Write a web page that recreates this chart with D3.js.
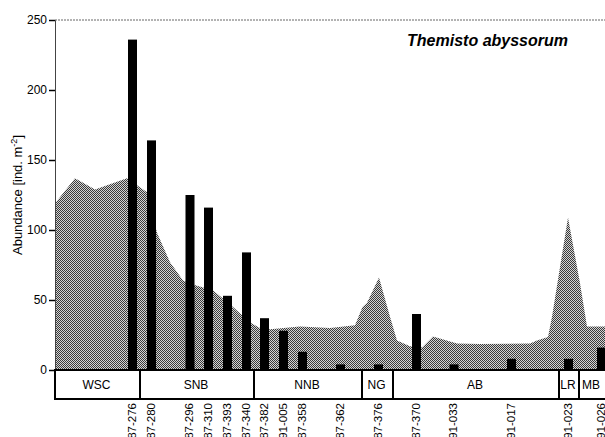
<!DOCTYPE html>
<meta charset="utf-8">
<html>
<head>
    <script src="https://cdn.jsdelivr.net/npm/d3@7"></script>
    <style>
        body { margin: 0; background: #fff; }
        text { font-family: "Liberation Sans", Arial, sans-serif; }
    </style>
</head>
<body>
    <script>
    // stations along the transect (position in transect units)
    var stations = ["87-276", "87-280", "87-296", "87-310", "87-393", "87-340", "87-382", "91-005",
                    "87-358", "87-362", "87-376", "87-370", "91-033", "91-017", "91-023", "91-026"];
    var stationPos = [15.5, 19.3, 27, 30.7, 34.5, 38.3, 41.9, 45.7, 49.5, 57.1, 64.7, 72.3, 79.8, 91.3, 102.7, 109.3];
    var abundance = [236, 164, 125, 116, 53, 84, 37, 28, 13, 4, 4, 40, 4, 8, 8, 16];

    // background profile (shaded area)
    var profilePos = [0, 4, 8, 14.4, 18.4, 20.4, 23, 25.6, 27.6, 29.6, 31.6, 35.6, 39, 41, 42.5, 49, 55, 60,
                      61.5, 62.4, 64.8, 67, 68.4, 71, 73.4, 75.6, 80.4, 85, 95, 96.4, 98.6, 99.4, 102.6, 105, 106.4, 120];
    var profileVal = [119, 137, 129, 137, 127, 98, 77, 64, 61, 59, 57, 45, 34, 30, 29, 31, 30, 32,
                      45, 48, 66, 38, 21, 17, 16, 24, 19, 18.5, 19, 21, 23.5, 38, 109, 62, 31, 31];

    // water mass regions
    var regions = ["WSC", "SNB", "NNB", "NG", "AB", "LR", "MB"];
    var regionStart = [0, 17, 39.8, 61.4, 67.6, 100.8, 104.8];
    var regionEnd = [17, 39.8, 61.4, 67.6, 100.8, 104.8, 120];

    var yTicks = [0, 50, 100, 150, 200, 250];

    var svg = d3.select("body")
        .append("svg")
        .attr("width", 605)
        .attr("height", 437);

    var x = d3.scaleLinear().domain([0, 120]).range([55, 655]);
    var y = d3.scaleLinear().domain([0, 250]).range([370, 20]);

    // dither pattern for the area
    var pat = svg.append("defs").append("pattern")
        .attr("id", "dither")
        .attr("width", 2).attr("height", 2)
        .attr("patternUnits", "userSpaceOnUse");
    pat.append("rect").attr("width", 2).attr("height", 2).attr("fill", "#d4d4d4");
    pat.append("rect").attr("width", 1).attr("height", 1).attr("fill", "#3a3a3a");
    pat.append("rect").attr("x", 1).attr("y", 1).attr("width", 1).attr("height", 1).attr("fill", "#3a3a3a");

    var profile = profilePos.map(function(p, i) { return [p, profileVal[i]]; });
    var area = d3.area()
        .x(function(d) { return x(d[0]); })
        .y0(y(0))
        .y1(function(d) { return y(d[1]); });

    svg.append("path")
        .datum(profile)
        .attr("d", area)
        .attr("fill", "url(#dither)");

    // bars
    svg.selectAll("rect.bar")
        .data(abundance)
        .enter()
        .append("rect")
        .attr("class", "bar")
        .attr("x", function(d, i) { return x(stationPos[i]) - 4.5; })
        .attr("y", function(d) { return y(d); })
        .attr("width", 9)
        .attr("height", function(d) { return y(0) - y(d); })
        .attr("fill", "#000");

    // top frame line
    svg.append("line")
        .attr("x1", 55).attr("x2", 605)
        .attr("y1", y(250)).attr("y2", y(250))
        .attr("stroke", "#666").attr("stroke-width", 1)
        .attr("stroke-dasharray", "2,1");

    // y axis
    var yAxis = svg.append("g")
        .attr("transform", "translate(55,0)")
        .call(d3.axisLeft(y).tickValues(yTicks).tickSize(6).tickPadding(2));
    yAxis.select(".domain").attr("stroke", "#444");
    yAxis.selectAll(".tick line").attr("stroke", "#000").attr("stroke-width", 1.5);
    yAxis.selectAll(".tick text")
        .attr("font-size", 12)
        .attr("fill", "#000")
        .style("font-family", "'Liberation Sans', Arial, sans-serif");

    var ylab = svg.append("text")
        .attr("transform", "translate(22,195) rotate(-90)")
        .attr("text-anchor", "middle")
        .attr("font-size", 13)
        .text("Abundance [ind. m");
    ylab.append("tspan").attr("baseline-shift", "super").attr("font-size", 9).text("-2");
    ylab.append("tspan").text("]");

    // region box
    var box = svg.append("g");
    box.selectAll("rect.region")
        .data(regions)
        .enter()
        .append("rect")
        .attr("x", function(d, i) { return x(regionStart[i]); })
        .attr("y", y(0))
        .attr("width", function(d, i) { return x(regionEnd[i]) - x(regionStart[i]); })
        .attr("height", 29)
        .attr("fill", "#fff")
        .attr("stroke", "#000")
        .attr("stroke-width", 2);
    box.selectAll("text.region")
        .data(regions)
        .enter()
        .append("text")
        .attr("x", function(d, i) { return (x(regionStart[i]) + Math.min(x(regionEnd[i]), 605)) / 2 - 1; })
        .attr("y", y(0) + 19)
        .attr("text-anchor", "middle")
        .attr("font-size", 12)
        .text(function(d) { return d; });

    // zero line
    svg.append("line")
        .attr("x1", 55).attr("x2", 605)
        .attr("y1", y(0)).attr("y2", y(0))
        .attr("stroke", "#000").attr("stroke-width", 2);

    // station labels
    svg.selectAll("text.station")
        .data(stations)
        .enter()
        .append("text")
        .attr("transform", function(d, i) { return "translate(" + (x(stationPos[i]) - 1) + ",403) rotate(-90)"; })
        .attr("text-anchor", "end")
        .attr("dy", "0.35em")
        .attr("font-size", 11.5)
        .text(function(d) { return d; });

    // title
    svg.append("text")
        .attr("x", 568)
        .attr("y", 46)
        .attr("text-anchor", "end")
        .attr("font-size", 16)
        .attr("font-weight", "bold")
        .attr("font-style", "italic")
        .text("Themisto abyssorum");
    </script>
</body>
</html>
